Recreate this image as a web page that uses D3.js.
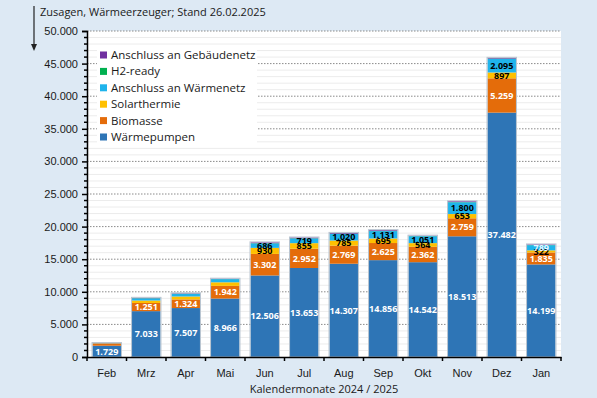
<!DOCTYPE html>
<html>
<head>
<meta charset="utf-8">
<script src="https://cdn.jsdelivr.net/npm/d3@7"></script>
<style>
  body { margin: 0; background: #dde9f4; }
  svg { display: block; font-family: "Open Sans", "DejaVu Sans", sans-serif; }
</style>
</head>
<body>
<svg id="chart"></svg>
<script>
// months and series values (Zusagen)
const months = ["Feb", "Mrz", "Apr", "Mai", "Jun", "Jul", "Aug", "Sep", "Okt", "Nov", "Dez", "Jan"];
const waermepumpen = [1729, 7033, 7507, 8966, 12506, 13653, 14307, 14856, 14542, 18513, 37482, 14199];
const biomasse = [330, 1251, 1324, 1942, 3302, 2952, 2769, 2625, 2362, 2759, 5259, 1835];
const solarthermie = [30, 380, 450, 550, 930, 855, 785, 695, 564, 653, 897, 322];
const waermenetz = [20, 330, 400, 480, 686, 719, 1020, 1131, 1051, 1800, 2095, 789];
const h2ready = [10, 30, 30, 20, 40, 40, 40, 40, 30, 40, 40, 30];
const gebaeudenetz = [20, 50, 60, 50, 120, 110, 110, 110, 60, 120, 110, 90];

const seriesNames = ["Wärmepumpen", "Biomasse", "Solarthermie", "Anschluss an Wärmenetz", "H2-ready", "Anschluss an Gebäudenetz"];
const seriesValues = [waermepumpen, biomasse, solarthermie, waermenetz, h2ready, gebaeudenetz];
const colors = ["#2e75b6", "#e46c0a", "#ffc000", "#1fb4ec", "#00b050", "#7030a0"];
// which labels are shown, per series
const showLabel = [
  months.map(() => true),
  months.map((m, i) => i > 0),
  months.map((m, i) => i > 3),
  months.map((m, i) => i > 3),
  months.map(() => false),
  months.map(() => false)
];
const labelColor = ["#fff", "#fff", "#000", "#000", "#000", "#000"];

const yTicks = [0, 5000, 10000, 15000, 20000, 25000, 30000, 35000, 40000, 45000, 50000];

const W = 597, H = 398;
const margin = { top: 31, right: 36, bottom: 41, left: 87 };
const width = W - margin.left - margin.right;
const height = H - margin.top - margin.bottom;

const fmt = d3.formatLocale({ decimal: ",", thousands: ".", grouping: [3], currency: ["", "€"] }).format(",d");

const svg = d3.select("#chart").attr("width", W).attr("height", H);

const g = svg.append("g").attr("transform", `translate(${margin.left},${margin.top})`);

// plot background
g.append("rect").attr("width", width).attr("height", height).attr("fill", "#fff");

const x = d3.scaleBand().domain(months).range([0, width]).paddingInner(0.28).paddingOuter(0.14);
const y = d3.scaleLinear().domain([0, 50000]).range([height, 0]);

// minor grid
g.append("g").selectAll("line")
  .data(d3.range(1000, 50000, 1000).filter(v => v % 5000 != 0))
  .join("line")
  .attr("x1", 0).attr("x2", width)
  .attr("y1", d => y(d)).attr("y2", d => y(d))
  .attr("stroke", "#ececec").attr("stroke-width", 1);

// major grid
g.append("g").selectAll("line")
  .data(yTicks.slice(1))
  .join("line")
  .attr("x1", 0).attr("x2", width)
  .attr("y1", d => y(d)).attr("y2", d => y(d))
  .attr("stroke", "#8a8a8a").attr("stroke-width", 1).attr("stroke-dasharray", "1.5,1.5");

// stack
const rows = months.map((m, i) => {
  const r = { month: m };
  seriesNames.forEach((s, k) => r[s] = seriesValues[k][i]);
  return r;
});
const stacked = d3.stack().keys(seriesNames)(rows);

const layers = g.append("g").selectAll("g")
  .data(stacked)
  .join("g")
  .attr("fill", (d, k) => colors[k]);

layers.selectAll("rect")
  .data(d => d)
  .join("rect")
  .attr("x", d => x(d.data.month))
  .attr("width", x.bandwidth())
  .attr("y", d => y(d[1]))
  .attr("height", d => y(d[0]) - y(d[1]));

// bar outline
g.append("g").selectAll("rect")
  .data(rows)
  .join("rect")
  .attr("x", d => x(d.month) - 0.5)
  .attr("width", x.bandwidth() + 1)
  .attr("y", d => y(d3.sum(seriesValues, s => s[months.indexOf(d.month)])) - 0.5)
  .attr("height", d => height - y(d3.sum(seriesValues, s => s[months.indexOf(d.month)])) + 0.5)
  .attr("fill", "none").attr("stroke", "#b8c4d0").attr("stroke-width", 1);

// value labels
stacked.forEach((layer, k) => {
  g.append("g").selectAll("text")
    .data(layer.filter((d, i) => showLabel[k][i]))
    .join("text")
    .attr("x", d => x(d.data.month) + x.bandwidth() / 2)
    .attr("y", d => (y(d[0]) + y(d[1])) / 2)
    .attr("dy", "0.35em")
    .attr("text-anchor", "middle")
    .attr("font-size", 9)
    .attr("font-weight", "bold")
    .attr("fill", d => (k == 3 && d.data.month == "Jan") ? "#e8f7ff" : labelColor[k])
    .text(d => fmt(d[1] - d[0]));
});

// y axis
const yAxis = d3.axisLeft(y).tickValues(yTicks).tickFormat(fmt).tickSize(5).tickPadding(4);
const ya = g.append("g").call(yAxis);
ya.select(".domain").attr("stroke", "#000").attr("stroke-width", 1.5);
ya.selectAll(".tick line").attr("stroke", "#000").attr("stroke-width", 1.5);
ya.selectAll("text").attr("font-size", 11).attr("fill", "#1a1a1a");
// minor y ticks
g.append("g").selectAll("line")
  .data(d3.range(1000, 50000, 1000).filter(v => v % 5000 != 0))
  .join("line")
  .attr("x1", -3).attr("x2", 0)
  .attr("y1", d => y(d)).attr("y2", d => y(d))
  .attr("stroke", "#000").attr("stroke-width", 1.5);

// x axis
const xAxis = d3.axisBottom(x).tickSize(0).tickPadding(12);
const xa = g.append("g").attr("transform", `translate(0,${height})`).call(xAxis);
xa.select(".domain").attr("stroke", "#000").attr("stroke-width", 1.5);
xa.selectAll("text").attr("font-size", 11).attr("fill", "#1a1a1a");
// separators between months
g.append("g").selectAll("line")
  .data(months.map((m, i) => i).concat([months.length]))
  .join("line")
  .attr("x1", i => i * x.step()).attr("x2", i => i * x.step())
  .attr("y1", height).attr("y2", height + 4)
  .attr("stroke", "#000").attr("stroke-width", 1.5);

g.append("text")
  .attr("x", width / 2).attr("y", height + 36)
  .attr("text-anchor", "middle").attr("font-size", 11).attr("fill", "#1a1a1a")
  .text("Kalendermonate 2024 / 2025");

// title with arrow
svg.append("line").attr("x1", 34).attr("x2", 34).attr("y1", 6).attr("y2", 45)
  .attr("stroke", "#222").attr("stroke-width", 1.2);
svg.append("path").attr("d", "M31,44 L37,44 L34,51 Z").attr("fill", "#222");
svg.append("text").attr("x", 40).attr("y", 16).attr("font-size", 11).attr("fill", "#1a1a1a")
  .text("Zusagen, Wärmeerzeuger; Stand 26.02.2025");

// legend
const legendOrder = [5, 4, 3, 2, 1, 0];
const lg = g.append("g").attr("transform", "translate(10,16)");
lg.append("rect").attr("x", 0).attr("y", 0).attr("width", 160).attr("height", 100).attr("fill", "#fff");
const li = lg.selectAll("g").data(legendOrder).join("g")
  .attr("transform", (k, i) => `translate(3,${8 + i * 16.4})`);
li.append("rect").attr("x", 0).attr("y", -3.5).attr("width", 7).attr("height", 7)
  .attr("fill", k => colors[k]);
li.append("text").attr("x", 11).attr("dy", "0.35em").attr("font-size", 11.5).attr("fill", "#1a1a1a")
  .text(k => seriesNames[k]);
</script>
</body>
</html>
